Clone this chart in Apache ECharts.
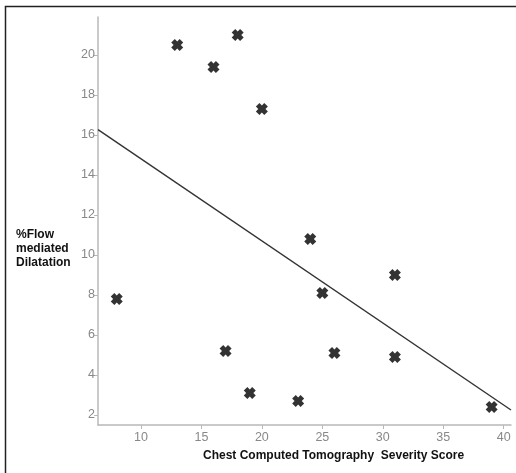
<!DOCTYPE html>
<html>
<head>
<meta charset="utf-8">
<script src="https://cdn.jsdelivr.net/npm/echarts@6/dist/echarts.min.js"></script>
<style>html,body{margin:0;padding:0;background:#fff;}#c{width:516px;height:473px;}</style>
</head>
<body>
<div id="c"></div>
<script>
const ctScore = [8, 13, 16, 18, 20, 24, 31, 25, 17, 26, 31, 19, 23, 39];
const fmd = [7.8, 20.5, 19.4, 21.0, 17.3, 10.8, 9.0, 8.1, 5.2, 5.1, 4.9, 3.1, 2.7, 2.4];
const fitX = [6.45, 40.6];
const fitY = [16.27, 2.25];
const xTicks = [10, 15, 20, 25, 30, 35, 40];
const yTicks = [2, 4, 6, 8, 10, 12, 14, 16, 18, 20];
const yTitle = '%Flow\nmediated\nDilatation';
const xTitle = 'Chest Computed Tomography  Severity Score';

const chart = echarts.init(document.getElementById('c'), null, {renderer: 'canvas'});
const font = '"Liberation Sans", Arial, Helvetica, sans-serif';
const axisCommon = {
  type: 'value',
  axisLine: {show: true, lineStyle: {color: '#b8b8b8', width: 1.5}},
  axisTick: {show: true, length: 4, lineStyle: {color: '#b8b8b8', width: 1}},
  axisLabel: {color: '#888', fontSize: 12.5, fontFamily: font, margin: 3},
  splitLine: {show: false}
};
chart.setOption({
  animation: false,
  grid: {left: 98, top: 17, right: 5, bottom: 48, containLabel: false},
  xAxis: Object.assign({}, axisCommon, {
    min: 6.45, max: 40.6,
    axisTick: Object.assign({}, axisCommon.axisTick, {customValues: xTicks}),
    axisLabel: Object.assign({}, axisCommon.axisLabel, {customValues: xTicks, margin: 6})
  }),
  yAxis: Object.assign({}, axisCommon, {
    min: 1.5, max: 21.9,
    axisTick: Object.assign({}, axisCommon.axisTick, {customValues: yTicks}),
    axisLabel: Object.assign({}, axisCommon.axisLabel, {customValues: yTicks})
  }),
  graphic: [
    {type: 'rect', shape: {x: 5.5, y: 6.5, width: 520, height: 480}, style: {fill: 'none', stroke: '#222', lineWidth: 1.5}, silent: true},
    {type: 'text', left: 16, top: 228, style: {text: yTitle, font: 'bold 12px ' + font, fill: '#111', lineHeight: 14}},
    {type: 'text', left: 203, top: 450, style: {text: xTitle, font: 'bold 12px ' + font, fill: '#111'}}
  ],
  series: [
    {
      type: 'line',
      data: fitX.map((x, i) => [x, fitY[i]]),
      symbol: 'none',
      lineStyle: {color: '#333', width: 1.4},
      z: 2
    },
    {
      type: 'scatter',
      data: ctScore.map((x, i) => [x, fmd[i]]),
      symbol: 'path://M0,3 L3,0 L5,2 L7,0 L10,3 L8,5 L10,7 L7,10 L5,8 L3,10 L0,7 L2,5 Z',
      symbolSize: 12,
      itemStyle: {color: '#000'},
      z: 3
    }
  ]
});
</script>
</body>
</html>
